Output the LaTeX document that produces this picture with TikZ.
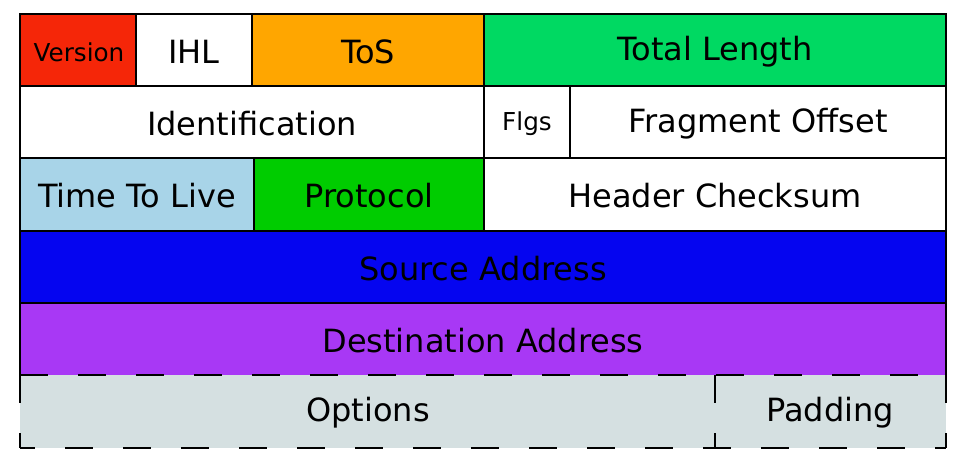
\documentclass[tikz,border=0pt]{standalone}
\usepackage{fontspec}
\setmainfont{DejaVu Sans}
\usepackage{xcolor}
\usetikzlibrary{shapes}

\definecolor{verred}{RGB}{245,38,8}
\definecolor{tosorange}{RGB}{255,166,0}
\definecolor{lengreen}{RGB}{0,217,98}
\definecolor{ttlblue}{RGB}{168,212,232}
\definecolor{protogreen}{RGB}{0,204,0}
\definecolor{srcblue}{RGB}{5,5,240}
\definecolor{dstpurple}{RGB}{168,56,245}
\definecolor{optgray}{RGB}{213,224,225}

\tikzset{
  cell/.style={line width=1.9pt, draw=black},
  optcell/.style={line width=1.9pt, draw=black, dash pattern={on 21pt off 22.5pt}},
  lbl/.style={inner sep=0.75pt, font=\fontsize{24}{28}\selectfont},
  smalllbl/.style={inner sep=0.75pt, font=\fontsize{18.5}{22}\selectfont}
}

\begin{document}
\begin{tikzpicture}[x=0.75pt,y=0.75pt,yscale=-1,xscale=1]
\useasboundingbox (0,0) rectangle (959,457);

%Shape: Rectangle (row 1)
\draw [cell, fill=verred] (20,14) rectangle (136,86) ;
\draw [cell, fill=white] (136,14) rectangle (252,86) ;
\draw [cell, fill=tosorange] (252,14) rectangle (484,86) ;
\draw [cell, fill=lengreen] (484,14) rectangle (946,86) ;
%Shape: Rectangle (row 2)
\draw [cell, fill=white] (20,86) rectangle (484,158) ;
\draw [cell, fill=white] (484,86) rectangle (570,158) ;
\draw [cell, fill=white] (570,86) rectangle (946,158) ;
%Shape: Rectangle (row 3)
\draw [cell, fill=ttlblue] (20,158) rectangle (254,231) ;
\draw [cell, fill=protogreen] (254,158) rectangle (484,231) ;
\draw [cell, fill=white] (484,158) rectangle (946,231) ;
%Shape: Rectangle (row 4)
\draw [cell, fill=srcblue] (20,231) rectangle (946,303) ;
%Shape: Rectangle (row 5, bottom edge left to the dashes)
\fill [dstpurple] (20,303) rectangle (946,375) ;
\draw [cell] (20,375) -- (20,303) -- (946,303) -- (946,375) ;
%Shape: Rectangle (row 6, dashed edges one by one)
\fill [optgray] (20,375) rectangle (946,448) ;
\draw [optcell] (20,375) -- (946,375) ;
\draw [optcell, dash phase=9.75pt] (20,448) -- (946,448) ;
\draw [optcell] (20,375) -- (20,448) ;
\draw [optcell] (715,375) -- (715,448) ;
\draw [optcell] (946,375) -- (946,448) ;

% Text Node
\draw (79,52) node [smalllbl] (version) {Version};
% Text Node
\draw (194,52) node [lbl] (ihl) {IHL};
% Text Node
\draw (368,52) node [lbl] (tos) {ToS};
% Text Node
\draw (715,52) node [lbl] (totlen) {Total Length};
% Text Node
\draw (252,124) node [lbl] (ident) {Identification};
% Text Node
\draw (527,124) node [smalllbl] (flgs) {Flgs};
% Text Node
\draw (758,124) node [lbl] (fragoff) {Fragment Offset};
% Text Node
\draw (137,196) node [lbl] (ttl) {Time To Live};
% Text Node
\draw (369,196) node [lbl] (proto) {Protocol};
% Text Node
\draw (715,196) node [lbl] (hdrsum) {Header Checksum};
% Text Node
\draw (483,269) node [lbl] (srcaddr) {Source Address};
% Text Node
\draw (483,341) node [lbl] (dstaddr) {Destination Address};
% Text Node
\draw (368,413) node [lbl] (options) {Options};
% Text Node
\draw (830,413) node [lbl] (padding) {Padding};

\end{tikzpicture}
\end{document}
